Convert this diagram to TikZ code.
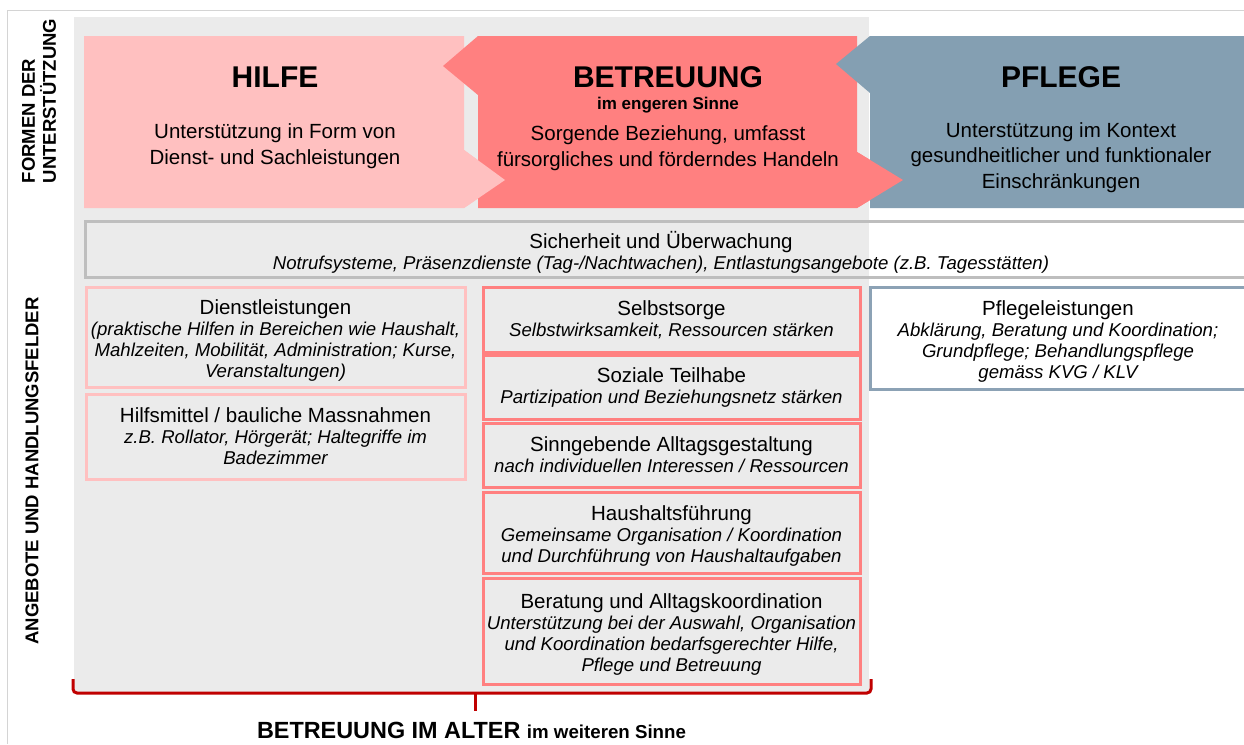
\documentclass[tikz,border=0pt]{standalone}
\usepackage{fontspec}
\setmainfont{Liberation Sans}
\definecolor{hilfec}{HTML}{FFC0C0}
\definecolor{betrc}{HTML}{FF8080}
\definecolor{pflc}{HTML}{849FB2}
\definecolor{bgc}{HTML}{EBEBEB}
\definecolor{sichc}{HTML}{BEBEBE}
\definecolor{pflb}{HTML}{8CA2B5}
\definecolor{brkc}{HTML}{C00000}
\definecolor{framec}{HTML}{D4D4D4}
\newcommand{\itl}{\itshape\fontsize{18.6}{21}\selectfont}
\newcommand{\tstrut}{\rule{0pt}{21pt}}
\begin{document}
\begin{tikzpicture}[x=1pt,y=-1pt,
  ttl/.style={font=\bfseries\fontsize{30}{32}\selectfont, inner sep=0pt, anchor=base},
  body/.style={font=\fontsize{20.5}{25.5}\selectfont, align=center, inner sep=0pt},
  boxc/.style={line width=3pt, align=center, inner sep=0pt, font=\fontsize{20.5}{21}\selectfont},
  lbox/.style={boxc, draw=hilfec, minimum width=379pt},
  mbox/.style={boxc, draw=betrc, minimum width=377pt},
  side/.style={rotate=90, inner sep=0pt, font=\bfseries\fontsize{18.5}{21}\selectfont},
  brk/.style={draw=brkc, line width=3pt}
]
\useasboundingbox (0,0) rectangle (1244,744);
\clip (0,0) rectangle (1244,744);
\fill[white] (0,0) rectangle (1244,744);
\draw[framec, line width=1pt] (7,744) -- (7,10) -- (1250,10);
\fill[bgc] (74,17) rectangle (869,693);

% forms of support
\fill[hilfec] (84,36) -- (464,36) -- (464,150) -- (505,180) -- (464,208) -- (84,208) -- cycle;
\fill[betrc] (478,36) -- (857,36) -- (857,152) -- (903,180) -- (857,208) -- (478,208) -- (478,95) -- (443,66) -- cycle;
\fill[pflc] (870,36) -- (1250,36) -- (1250,208) -- (870,208) -- (870,93) -- (836,64) -- cycle;
\fill[betrc] (857,152) -- (903,180) -- (857,208) -- cycle;
\fill[hilfec] (464,150) -- (505,180) -- (464,208) -- cycle;

\node[ttl] (hilfeT) at (275,87) {HILFE};
\node[body] (hilfeB) at (275,146) {Unterstützung in Form von\\Dienst- und Sachleistungen};
\node[ttl] (betrT) at (668,87) {BETREUUNG};
\node[inner sep=0pt, anchor=base, font=\bfseries\fontsize{17}{18}\selectfont] (betrS) at (668,109) {im engeren Sinne};
\node[body] (betrB) at (668,148) {Sorgende Beziehung, umfasst\\fürsorgliches und förderndes Handeln};
\node[ttl] (pflT) at (1061,87) {PFLEGE};
\node[body] (pflB) at (1061,157.5) {Unterstützung im Kontext\\gesundheitlicher und funktionaler\\Einschränkungen};

% side labels
\node[side, align=left] (formen) at (39,101) {FORMEN DER\\UNTERSTÜTZUNG};
\node[side] (angebote) at (32,471) {ANGEBOTE UND HANDLUNGSFELDER};

% safety
\node[boxc, draw=sichc, minimum width=1165pt, minimum height=56pt] (sich) at (667.5,249) {};
\node[boxc] (sichT) at (661,252) {Sicherheit und Überwachung\\\itl Notrufsysteme, Präsenzdienste (Tag-/Nachtwachen), Entlastungsangebote (z.B. Tagesstätten)};

% left column
\node[lbox, minimum height=100pt] (dienst) at (275.5,337) {\tstrut Dienstleistungen\\\itl (praktische Hilfen in Bereichen wie Haushalt,\\\itl Mahlzeiten, Mobilität, Administration; Kurse,\\\itl Veranstaltungen)};
\node[lbox, minimum height=85pt] (hilfsm) at (275.5,436.5) {Hilfsmittel / bauliche Massnahmen\\\itl z.B. Rollator, Hörgerät; Haltegriffe im\\\itl Badezimmer};

% middle column
\node[mbox, minimum height=65pt] (selbst) at (671.5,319.5) {Selbstsorge\\\itl Selbstwirksamkeit, Ressourcen stärken};
\node[mbox, minimum height=64pt] (sozial) at (671.5,387) {Soziale Teilhabe\\\itl Partizipation und Beziehungsnetz stärken};
\node[mbox, minimum height=64pt] (sinn) at (671.5,455) {Sinngebende Alltagsgestaltung\\\itl nach individuellen Interessen / Ressourcen};
\node[mbox, minimum height=81pt] (haus) at (671.5,532.5) {\tstrut Haushaltsführung\\\itl Gemeinsame Organisation / Koordination\\\itl und Durchführung von Haushaltaufgaben};
\node[mbox, minimum height=106pt] (berat) at (671.5,631) {\tstrut Beratung und Alltagskoordination\\\itl Unterstützung bei der Auswahl, Organisation\\\itl und Koordination bedarfsgerechter Hilfe,\\\itl Pflege und Betreuung};

% right column
\node[boxc, draw=pflb, fill=white, minimum width=380pt, minimum height=102pt] (pflege) at (1060,338.5) {};
\node[boxc] (pflegeT) at (1058,341) {Pflegeleistungen\\\itl Abklärung, Beratung und Koordination;\\\itl Grundpflege; Behandlungspflege\\\itl gemäss KVG / KLV};

% bracket
\coordinate (bl) at (73,679);
\coordinate (br) at (871,679);
\coordinate (bm) at (475,711);
\draw[brk, rounded corners=4pt] (bl) -- (73,693) -- (871,693) -- (br);
\draw[brk] (475,692) -- (bm);
\node[inner sep=0pt, anchor=base] (weit) at (471.5,738) {\bfseries\fontsize{23.4}{24}\selectfont BETREUUNG IM ALTER \fontsize{18.7}{20}\selectfont im weiteren Sinne};
\end{tikzpicture}
\end{document}
